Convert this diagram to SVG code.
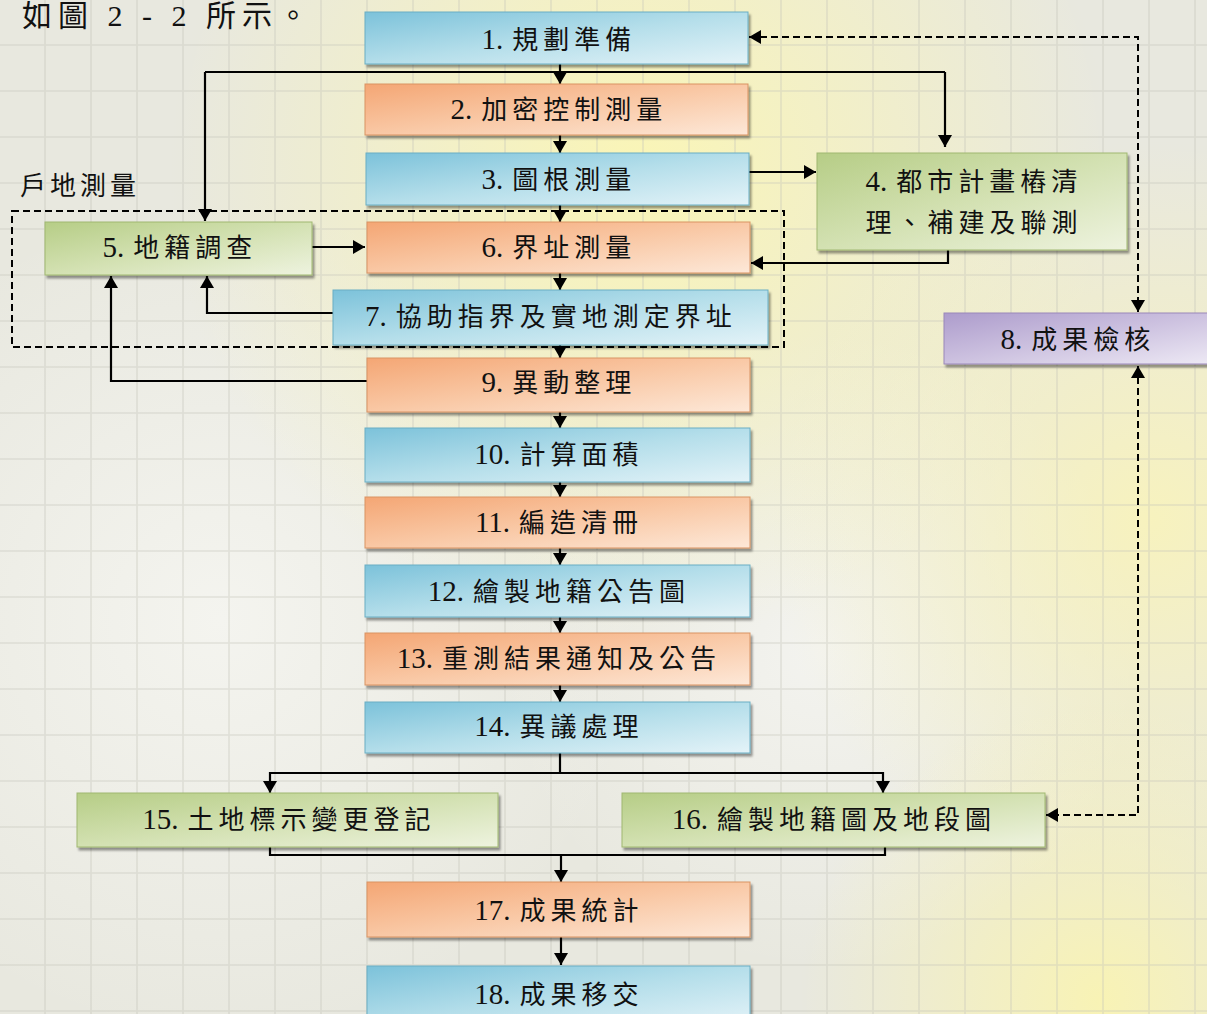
<svg xmlns="http://www.w3.org/2000/svg" width="1207" height="1014" viewBox="0 0 1207 1014">
<style>
.t{font-family:"Liberation Serif","Noto Sans CJK TC",serif;font-size:26px;letter-spacing:5px;fill:#111;text-anchor:middle}
.n{font-size:29px;letter-spacing:0}
.lbl{font-family:"Liberation Serif","Noto Sans CJK TC",serif;font-size:26px;letter-spacing:4px;fill:#111}
.hd{font-family:"Liberation Serif","Noto Sans CJK TC",serif;font-size:30px;letter-spacing:6px;fill:#111}
.c{fill:none;stroke:#000;stroke-width:2.2;marker-end:url(#ah)}
.cn{fill:none;stroke:#000;stroke-width:2.2}
.d{fill:none;stroke:#000;stroke-width:2;stroke-dasharray:7 4;marker-start:url(#ah);marker-end:url(#ah)}
.blue{fill:url(#gb);stroke:#6aaec4;stroke-width:1;filter:url(#sh)}
.org{fill:url(#go);stroke:#d99363;stroke-width:1;filter:url(#sh)}
.grn{fill:url(#gg);stroke:#a0b871;stroke-width:1;filter:url(#sh)}
.pur{fill:url(#gp);stroke:#9a88ba;stroke-width:1;filter:url(#sh)}
</style>
<defs>
<marker id="ah" viewBox="0 0 12 14" refX="12" refY="7" markerWidth="12" markerHeight="14" markerUnits="userSpaceOnUse" orient="auto-start-reverse">
<path d="M0,0 L12,7 L0,14 z" fill="#000"/>
</marker>
<linearGradient id="gb" x1="0" y1="0" x2="1" y2="1"><stop offset="0" stop-color="#7cc2da"/><stop offset="0.5" stop-color="#b4deea"/><stop offset="1" stop-color="#e4f3f8"/></linearGradient>
<linearGradient id="go" x1="0" y1="0" x2="1" y2="1"><stop offset="0" stop-color="#f4a674"/><stop offset="0.5" stop-color="#f9c8a5"/><stop offset="1" stop-color="#fde8d8"/></linearGradient>
<linearGradient id="gg" x1="0" y1="0" x2="1" y2="1"><stop offset="0" stop-color="#b6cd86"/><stop offset="0.5" stop-color="#d3e1b2"/><stop offset="1" stop-color="#eef3df"/></linearGradient>
<linearGradient id="gp" x1="0" y1="0" x2="1" y2="1"><stop offset="0" stop-color="#ad9ccc"/><stop offset="0.5" stop-color="#cdc2e0"/><stop offset="1" stop-color="#eeeaf5"/></linearGradient>
<radialGradient id="y1" cx="640" cy="170" r="470" gradientUnits="userSpaceOnUse"><stop offset="0" stop-color="#fbf6b4" stop-opacity="0.95"/><stop offset="1" stop-color="#fbf6b4" stop-opacity="0"/></radialGradient>
<radialGradient id="y2" cx="1150" cy="520" r="380" gradientUnits="userSpaceOnUse"><stop offset="0" stop-color="#faf4b8" stop-opacity="0.85"/><stop offset="1" stop-color="#faf4b8" stop-opacity="0"/></radialGradient>
<radialGradient id="y3" cx="1100" cy="1000" r="300" gradientUnits="userSpaceOnUse"><stop offset="0" stop-color="#faf4b0" stop-opacity="0.9"/><stop offset="1" stop-color="#faf4b0" stop-opacity="0"/></radialGradient>
<radialGradient id="w1" cx="220" cy="620" r="420" gradientUnits="userSpaceOnUse"><stop offset="0" stop-color="#f7f7f3" stop-opacity="0.8"/><stop offset="1" stop-color="#f7f7f3" stop-opacity="0"/></radialGradient>
<radialGradient id="w2" cx="820" cy="650" r="320" gradientUnits="userSpaceOnUse"><stop offset="0" stop-color="#f8f8f6" stop-opacity="0.7"/><stop offset="1" stop-color="#f8f8f6" stop-opacity="0"/></radialGradient>
<pattern id="grid" width="46" height="46" patternUnits="userSpaceOnUse"><path d="M45 0 V46 M0 45 H46" stroke="#c4c4b8" stroke-width="1.6" fill="none" opacity="0.4"/></pattern>
<filter id="sh" x="-5%" y="-15%" width="112%" height="145%"><feDropShadow dx="2" dy="3" stdDeviation="1.3" flood-color="#000" flood-opacity="0.4"/></filter>
</defs>

<g id="background">
<rect width="1207" height="1014" fill="#e8e8df"/>
<rect width="1207" height="1014" fill="url(#w1)"/>
<rect width="1207" height="1014" fill="url(#w2)"/>
<rect width="1207" height="1014" fill="url(#y1)"/>
<rect width="1207" height="1014" fill="url(#y2)"/>
<rect width="1207" height="1014" fill="url(#y3)"/>
<rect width="1207" height="1014" fill="url(#grid)"/>
</g>

<text class="hd" x="22" y="26">如圖 2 - 2 所示。</text>
<text class="lbl" x="20" y="195">戶地測量</text>
<rect id="group-frame" x="12" y="211" width="772" height="136" fill="none" stroke="#000" stroke-width="2" stroke-dasharray="7 4"/>

<g id="connectors">
<path class="c" d="M560,64 V84"/>
<path class="cn" d="M205,72 H945"/>
<path class="c" d="M205,72 V221"/>
<path class="c" d="M945,72 V147"/>
<path class="c" d="M560,135 V153"/>
<path class="c" d="M748,172 H816"/>
<path class="c" d="M948,250 V263 H751"/>
<path class="c" d="M560,205 V222"/>
<path class="c" d="M312,247 H365"/>
<path class="c" d="M560,273 V290"/>
<path class="c" d="M333,313 H207 V276"/>
<path class="c" d="M560,345 V358"/>
<path class="c" d="M367,381 H111 V276"/>
<path class="c" d="M560,412 V428"/>
<path class="c" d="M560,482 V497"/>
<path class="c" d="M560,548 V565"/>
<path class="c" d="M560,617 V633"/>
<path class="c" d="M560,685 V702"/>
<path class="cn" d="M560,753 V773"/>
<path class="c" d="M560,773 H270 V793"/>
<path class="c" d="M560,773 H883 V793"/>
<path class="cn" d="M270,847 V855 H885 V847"/>
<path class="c" d="M561,855 V882"/>
<path class="c" d="M561,937 V965"/>
<path class="d" d="M749,37 H1138 V312"/>
<path class="d" d="M1138,366 V815 H1046"/>
</g>

<g id="n1"><rect class="blue" x="365" y="12" width="383" height="52"/><text class="t" x="559" y="49"><tspan class="n">1.</tspan><tspan dx="9">規劃準備</tspan></text></g>
<g id="n2"><rect class="org" x="365" y="84" width="383" height="51"/><text class="t" x="559" y="119"><tspan class="n">2.</tspan><tspan dx="9">加密控制測量</tspan></text></g>
<g id="n3"><rect class="blue" x="366" y="153" width="383" height="52"/><text class="t" x="559" y="189"><tspan class="n">3.</tspan><tspan dx="9">圖根測量</tspan></text></g>
<g id="n4"><rect class="grn" x="817" y="153" width="310" height="97"/><text class="t" x="974" y="191"><tspan class="n">4.</tspan><tspan dx="9">都市計畫樁清</tspan></text><text class="t" x="974" y="232">理、補建及聯測</text></g>
<g id="n5"><rect class="grn" x="45" y="222" width="267" height="53"/><text class="t" x="180" y="257"><tspan class="n">5.</tspan><tspan dx="9">地籍調查</tspan></text></g>
<g id="n6"><rect class="org" x="367" y="222" width="383" height="51"/><text class="t" x="559" y="257"><tspan class="n">6.</tspan><tspan dx="9">界址測量</tspan></text></g>
<g id="n7"><rect class="blue" x="333" y="290" width="435" height="55"/><text class="t" x="551" y="326"><tspan class="n">7.</tspan><tspan dx="9">協助指界及實地測定界址</tspan></text></g>
<g id="n8"><rect class="pur" x="944" y="313" width="275" height="51"/><text class="t" x="1078" y="349"><tspan class="n">8.</tspan><tspan dx="9">成果檢核</tspan></text></g>
<g id="n9"><rect class="org" x="367" y="358" width="383" height="54"/><text class="t" x="559" y="392"><tspan class="n">9.</tspan><tspan dx="9">異動整理</tspan></text></g>
<g id="n10"><rect class="blue" x="365" y="428" width="385" height="54"/><text class="t" x="559" y="464"><tspan class="n">10.</tspan><tspan dx="9">計算面積</tspan></text></g>
<g id="n11"><rect class="org" x="365" y="497" width="385" height="51"/><text class="t" x="559" y="532"><tspan class="n">11.</tspan><tspan dx="9">編造清冊</tspan></text></g>
<g id="n12"><rect class="blue" x="365" y="565" width="385" height="52"/><text class="t" x="559" y="601"><tspan class="n">12.</tspan><tspan dx="9">繪製地籍公告圖</tspan></text></g>
<g id="n13"><rect class="org" x="365" y="633" width="385" height="52"/><text class="t" x="559" y="668"><tspan class="n">13.</tspan><tspan dx="9">重測結果通知及公告</tspan></text></g>
<g id="n14"><rect class="blue" x="365" y="702" width="385" height="51"/><text class="t" x="559" y="736"><tspan class="n">14.</tspan><tspan dx="9">異議處理</tspan></text></g>
<g id="n15"><rect class="grn" x="77" y="793" width="421" height="54"/><text class="t" x="289" y="829"><tspan class="n">15.</tspan><tspan dx="9">土地標示變更登記</tspan></text></g>
<g id="n16"><rect class="grn" x="622" y="793" width="423" height="54"/><text class="t" x="834" y="829"><tspan class="n">16.</tspan><tspan dx="9">繪製地籍圖及地段圖</tspan></text></g>
<g id="n17"><rect class="org" x="367" y="882" width="383" height="55"/><text class="t" x="559" y="920"><tspan class="n">17.</tspan><tspan dx="9">成果統計</tspan></text></g>
<g id="n18"><rect class="blue" x="367" y="966" width="383" height="60"/><text class="t" x="559" y="1004"><tspan class="n">18.</tspan><tspan dx="9">成果移交</tspan></text></g>
</svg>
